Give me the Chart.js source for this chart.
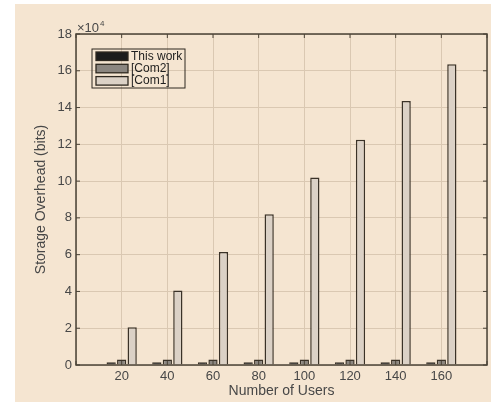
<!DOCTYPE html>
<html lang="en">
<head>
    <meta charset="UTF-8">
    <title>Storage Overhead vs Number of Users</title>
    <script src="https://cdn.jsdelivr.net/npm/chart.js"></script>
    <style>
        body {
            margin: 0;
            background: #ffffff;
        }

        canvas {
            display: block;
        }
    </style>
</head>
<body>
    <canvas id="overhead-chart" width="491" height="402"></canvas>

    <script>
        // Values (bits)
        const users = [20, 40, 60, 80, 100, 120, 140, 160];
        const thisWork = [1500, 1500, 1500, 1500, 1500, 1500, 1500, 1500];
        const com2 = [3000, 3000, 3000, 3000, 3000, 3000, 3000, 3000];
        const com1 = [20500, 40500, 61500, 82000, 102000, 122500, 143500, 163500];
        const yTicks = [0, 2, 4, 6, 8, 10, 12, 14, 16, 18]; // x 10^4

        // x axis runs 0..180 like the original, bars only at 20..160
        const xLabels = ['0', ...users.map(String), '180'];
        const pad = arr => [null, ...arr, null];

        const axisColor = '#4a4236';
        const gridColor = '#dac8b2';
        const textColor = '#474747';
        const font = 'Liberation Sans, Arial, sans-serif';

        // beige figure background
        const backgroundPlugin = {
            id: 'background',
            beforeDraw(chart) {
                const ctx = chart.ctx;
                ctx.save();
                ctx.fillStyle = '#f5e5d1';
                ctx.fillRect(15, 4, chart.width - 15, chart.height - 4);
                ctx.restore();
            }
        };

        // MATLAB style box with inward ticks, exponent label and legend
        const boxPlugin = {
            id: 'box',
            afterDraw(chart) {
                const ctx = chart.ctx;
                const area = chart.chartArea;
                const x = chart.scales.x;
                const y = chart.scales.y;
                ctx.save();
                ctx.strokeStyle = axisColor;
                ctx.lineWidth = 1.5;
                ctx.strokeRect(area.left, area.top, area.right - area.left, area.bottom - area.top);

                ctx.lineWidth = 1;
                ctx.beginPath();
                y.ticks.forEach((t, i) => {
                    const py = y.getPixelForTick(i);
                    ctx.moveTo(area.left, py);
                    ctx.lineTo(area.left + 4, py);
                    ctx.moveTo(area.right, py);
                    ctx.lineTo(area.right - 4, py);
                });
                x.ticks.forEach((t, i) => {
                    const px = x.getPixelForTick(i);
                    ctx.moveTo(px, area.bottom);
                    ctx.lineTo(px, area.bottom - 4);
                    ctx.moveTo(px, area.top);
                    ctx.lineTo(px, area.top + 4);
                });
                ctx.stroke();

                // exponent
                ctx.fillStyle = textColor;
                ctx.textBaseline = 'alphabetic';
                ctx.textAlign = 'left';
                ctx.font = '13px ' + font;
                ctx.fillText('\u00d710', area.left + 1, area.top - 2);
                ctx.font = '8px ' + font;
                ctx.fillText('4', area.left + 24, area.top - 8);

                // legend
                const lx = area.left + 16;
                const ly = area.top + 15;
                ctx.lineWidth = 1;
                ctx.strokeStyle = '#2e2820';
                ctx.strokeRect(lx, ly, 93, 39);
                ctx.font = '12px ' + font;
                ctx.textBaseline = 'middle';
                chart.data.datasets.forEach((ds, i) => {
                    const sy = ly + 3 + i * 12.3;
                    ctx.fillStyle = ds.backgroundColor;
                    ctx.fillRect(lx + 4, sy, 32, 8.5);
                    ctx.strokeStyle = '#2e2820';
                    ctx.lineWidth = 1.3;
                    ctx.strokeRect(lx + 4, sy, 32, 8.5);
                    ctx.fillStyle = '#1e1e1e';
                    ctx.fillText(ds.label, lx + 39, sy + 4.5);
                });
                ctx.restore();
            }
        };

        function createOverheadChart() {
            const ctx = document.getElementById('overhead-chart').getContext('2d');
            const barStyle = {
                borderColor: '#3a3228',
                borderWidth: 1.5,
                borderSkipped: 'bottom',
                categoryPercentage: 0.69,
                barPercentage: 0.88,
            };
            new Chart(ctx, {
                type: 'bar',
                data: {
                    labels: xLabels,
                    datasets: [
                        { label: 'This work', data: pad(thisWork), backgroundColor: '#1c1c1c', ...barStyle },
                        { label: '[Com2]', data: pad(com2), backgroundColor: '#8b8680', ...barStyle },
                        { label: '[Com1]', data: pad(com1), backgroundColor: '#dbd1c6', ...barStyle },
                    ],
                },
                options: {
                    responsive: false,
                    animation: false,
                    layout: {
                        padding: { left: 15, top: 34, right: 1, bottom: 0 },
                    },
                    plugins: {
                        legend: { display: false },
                        tooltip: { enabled: false },
                    },
                    scales: {
                        x: {
                            offset: false,
                            grid: { offset: false, color: gridColor, drawTicks: false },
                            border: { display: false },
                            ticks: {
                                color: textColor,
                                font: { family: font, size: 13 },
                                padding: 4,
                                maxRotation: 0,
                                autoSkip: false,
                                callback: (v, i) => (i === 0 || i === xLabels.length - 1) ? '' : xLabels[i],
                            },
                            title: {
                                display: true,
                                text: 'Number of Users',
                                color: textColor,
                                font: { family: font, size: 14 },
                                padding: { top: 0, bottom: 2 },
                            },
                            afterFit(scale) { scale.height = 37; },
                        },
                        y: {
                            min: 0,
                            max: 180000,
                            grid: { color: gridColor, drawTicks: false },
                            border: { display: false },
                            afterBuildTicks(scale) {
                                scale.ticks = yTicks.map(v => ({ value: v * 1e4 }));
                            },
                            ticks: {
                                color: textColor,
                                font: { family: font, size: 13 },
                                padding: 4,
                                callback: v => String(v / 1e4),
                            },
                            title: {
                                display: true,
                                text: 'Storage Overhead (bits)',
                                color: textColor,
                                font: { family: font, size: 14 },
                                padding: { top: 18, bottom: 0 },
                            },
                            afterFit(scale) { scale.width = 61; },
                        },
                    },
                },
                plugins: [backgroundPlugin, boxPlugin],
            });
        }

        createOverheadChart();
    </script>
</body>
</html>
